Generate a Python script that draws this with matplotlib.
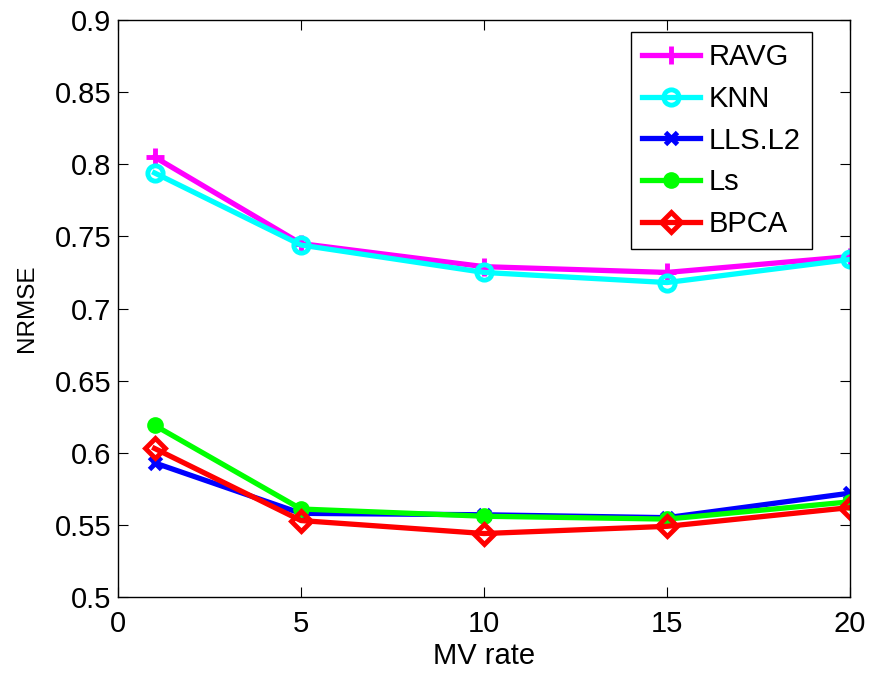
import matplotlib
matplotlib.use('Agg')
import matplotlib.pyplot as plt

mv_rate = [1, 5, 10, 15, 20]
ravg = [0.805, 0.745, 0.729, 0.725, 0.736]
knn = [0.794, 0.744, 0.725, 0.718, 0.734]
lls_l2 = [0.593, 0.558, 0.557, 0.555, 0.572]
ls = [0.619, 0.561, 0.556, 0.554, 0.566]
bpca = [0.603, 0.553, 0.544, 0.549, 0.562]

plt.rcParams['font.family'] = ['Liberation Sans', 'DejaVu Sans']

fig = plt.figure(figsize=(8.7, 6.73), dpi=100)
# axes box: x 118..850 px, y 20..597 px
ax = fig.add_axes([118/870, 1-597/673, 732/870, 577/673])

lw = 3.8
ax.plot(mv_rate, ravg, color='#ff00ff', marker='+', markersize=13, mew=3.5, lw=lw, label='RAVG')
ax.plot(mv_rate, knn, color='#00ffff', marker='o', markersize=11, mew=3.5, mfc='none', lw=lw, label='KNN')
ax.plot(mv_rate, lls_l2, color='#0000ff', marker='x', markersize=9, mew=3.5, lw=lw, label='LLS.L2')
ax.plot(mv_rate, ls, color='#00ff00', marker='o', markersize=10, mew=2, lw=lw, label='Ls')
ax.plot(mv_rate, bpca, color='#ff0000', marker='D', markersize=10, mew=3.5, mfc='none', lw=lw, label='BPCA')

ax.set_xlim(0, 20)
ax.set_ylim(0.5, 0.9)
ax.set_xticks([0, 5, 10, 15, 20])
ax.set_yticks([0.5, 0.55, 0.6, 0.65, 0.7, 0.75, 0.8, 0.85, 0.9])
ax.set_yticklabels(['0.5', '0.55', '0.6', '0.65', '0.7', '0.75', '0.8', '0.85', '0.9'])
ax.tick_params(direction='in', top=True, right=True, labelsize=21, length=7, width=0.8)
ax.tick_params(axis='y', pad=5)
ax.tick_params(axis='x', pad=9)
for s in ax.spines.values():
    s.set_linewidth(1.0)
ax.set_xlabel('MV rate', fontsize=21, labelpad=3)
ax.set_ylabel('NRMSE', fontsize=17.5, labelpad=12)

leg = ax.legend(loc='upper right', fontsize=21, fancybox=False, framealpha=1,
                edgecolor='black', borderpad=0.38, handlelength=2.0, handletextpad=0.3,
                labelspacing=0.47, borderaxespad=0,
                bbox_to_anchor=(0.948, 0.979))
leg.get_frame().set_linewidth(1.0)

fig.savefig('out.png', dpi=100)
